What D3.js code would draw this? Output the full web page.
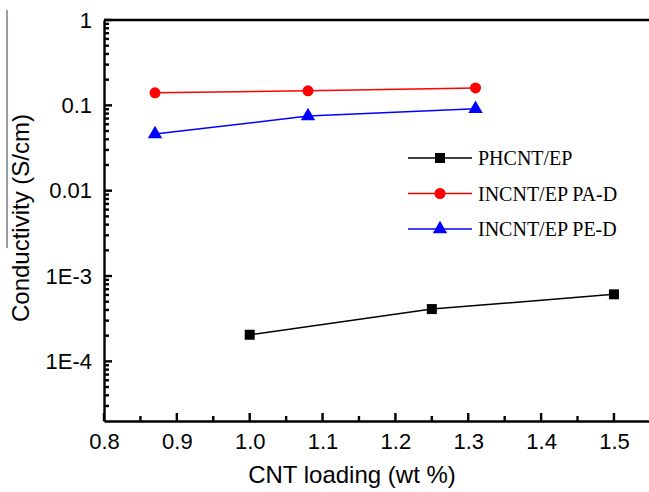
<!DOCTYPE html>
<html>
<head>
<meta charset="utf-8">
<script src="https://cdn.jsdelivr.net/npm/d3@7"></script>
<style>
  body { margin: 0; background: #fff; }
  svg { display: block; }
  .axis text { font-family: Arial, "Liberation Sans", sans-serif; font-size: 22px; fill: #000; }
</style>
</head>
<body>
<div id="viz-container"></div>
<script>
// values
const loadingPH = [1.0, 1.25, 1.5];
const condPH = [2.05e-4, 4.1e-4, 6.1e-4];
const loadingIN = [0.87, 1.08, 1.31];
const condPA = [0.14, 0.148, 0.16];
const condPE = [0.046, 0.075, 0.091];

const seriesNames = ["PHCNT/EP", "INCNT/EP PA-D", "INCNT/EP PE-D"];
const xTicks = [0.8, 0.9, 1.0, 1.1, 1.2, 1.3, 1.4, 1.5];
const yTicks = [1e-4, 1e-3, 0.01, 0.1, 1];
const yTickLabels = ["1E-4", "1E-3", "0.01", "0.1", "1"];

const width = 649, height = 492;
const plotLeft = 104, plotTop = 20, plotBottom = 421;

const svg = d3.select("#viz-container")
    .append("svg")
    .attr("width", width)
    .attr("height", height);

const x = d3.scaleLinear().domain([0.8, 1.6]).range([plotLeft, plotLeft + 8 * 72.85]);
const y = d3.scaleLog().domain([2e-5, 1]).range([plotBottom, plotTop]);

// minor ticks: 0.05 steps on x, 2..9 per decade on y
const xMinor = d3.range(17).map(i => +(0.8 + i * 0.05).toFixed(2)).filter(v => !xTicks.includes(v));
const yMinor = [];
for (let e = -5; e < 0; e++) {
    for (let m = 2; m <= 9; m++) {
        const v = m * Math.pow(10, e);
        if (v > 2e-5 && v < 1) yMinor.push(v);
    }
}

// tick marks, pointing into the plot
const tickG = svg.append("g");
tickG.selectAll("rect.xt")
    .data(xTicks.map(v => [v, 8]).concat(xMinor.map(v => [v, 5])))
    .join("rect")
    .attr("class", "xt")
    .attr("x", d => x(d[0]) - 1.2).attr("width", 2.4)
    .attr("y", d => plotBottom - d[1]).attr("height", d => d[1])
    .attr("fill", "#000");
tickG.selectAll("rect.yt")
    .data(yTicks.map(v => [v, 8]).concat(yMinor.map(v => [v, 5])))
    .join("rect")
    .attr("class", "yt")
    .attr("x", plotLeft).attr("width", d => d[1])
    .attr("y", d => y(d[0]) - 1.2).attr("height", 2.4)
    .attr("fill", "#000");

// axes: lines and labels
svg.append("g")
    .attr("class", "axis")
    .attr("transform", `translate(0,${plotBottom})`)
    .call(d3.axisBottom(x).tickValues(xTicks).tickSize(0).tickPadding(12)
        .tickFormat(d3.format(".1f")))
    .call(g => g.select(".domain").attr("stroke", "#000").attr("stroke-width", 2.4));

svg.append("g")
    .attr("class", "axis")
    .attr("transform", `translate(${plotLeft},0)`)
    .call(d3.axisLeft(y).tickValues(yTicks).tickSize(0).tickPadding(12)
        .tickFormat((d, i) => yTickLabels[i]))
    .call(g => g.select(".domain").attr("stroke", "#000").attr("stroke-width", 2.4));

// top frame line
svg.append("line")
    .attr("x1", plotLeft).attr("x2", width)
    .attr("y1", plotTop).attr("y2", plotTop)
    .attr("stroke", "#000").attr("stroke-width", 2.4);

// axis titles
svg.append("text")
    .attr("x", 352).attr("y", 483)
    .attr("text-anchor", "middle")
    .style("font-family", "Arial, 'Liberation Sans', sans-serif")
    .style("font-size", "24px")
    .text("CNT loading (wt %)");

svg.append("text")
    .attr("transform", "translate(29,218) rotate(-90)")
    .attr("text-anchor", "middle")
    .style("font-family", "Arial, 'Liberation Sans', sans-serif")
    .style("font-size", "24px")
    .text("Conductivity (S/cm)");

// stray thin line at the far left of the scan
svg.append("line")
    .attr("x1", 7).attr("x2", 7)
    .attr("y1", 10).attr("y2", 248)
    .attr("stroke", "#333a48").attr("stroke-width", 1);

// series
const series = [
    { name: seriesNames[0], xs: loadingPH, ys: condPH, color: "#000000", shape: d3.symbolSquare, size: 100 },
    { name: seriesNames[1], xs: loadingIN, ys: condPA, color: "#ff0000", shape: d3.symbolCircle, size: 95 },
    { name: seriesNames[2], xs: loadingIN, ys: condPE, color: "#0000ff", shape: d3.symbolTriangle, size: 90 }
];

const line = d3.line().x(d => x(d[0])).y(d => y(d[1]));

series.forEach(s => {
    const pts = s.xs.map((v, i) => [v, s.ys[i]]);
    svg.append("path")
        .datum(pts)
        .attr("d", line)
        .attr("fill", "none")
        .attr("stroke", s.color)
        .attr("stroke-width", 1.5);
    svg.append("g")
        .selectAll("path")
        .data(pts)
        .join("path")
        .attr("transform", d => `translate(${x(d[0])},${y(d[1])})`)
        .attr("d", d3.symbol().type(s.shape).size(s.size))
        .attr("fill", s.color);
});

// legend
const legend = svg.append("g").attr("transform", "translate(408,158)");
series.forEach((s, i) => {
    const g = legend.append("g").attr("transform", `translate(0,${i * 35.5})`);
    g.append("line")
        .attr("x1", 0).attr("x2", 64)
        .attr("stroke", s.color).attr("stroke-width", 1.5);
    g.append("path")
        .attr("transform", "translate(32,0)")
        .attr("d", d3.symbol().type(s.shape).size(s.size))
        .attr("fill", s.color);
    g.append("text")
        .attr("x", 70).attr("y", 7)
        .style("font-family", "'Times New Roman', 'Liberation Serif', serif")
        .style("font-size", "20px")
        .text(s.name);
});
</script>
</body>
</html>
